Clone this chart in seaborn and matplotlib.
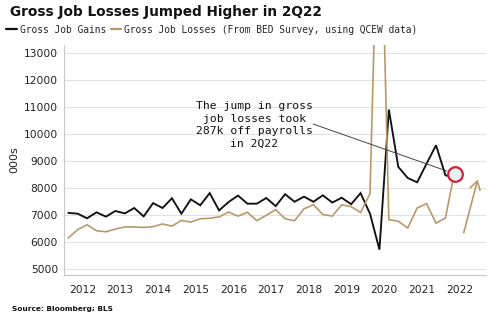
import numpy as np
import pandas as pd
import matplotlib
matplotlib.use("Agg")
import matplotlib.pyplot as plt
import seaborn as sns
from matplotlib.lines import Line2D

# Quarterly BED series, 1Q12 through 2Q22 (thousands of jobs)
quarters = [f"{q}Q{y % 100:02d}" for y in range(2012, 2023) for q in range(1, 5)][:42]

gross_job_gains = [
    7080, 7050, 6880, 7100,   # 2012
    6940, 7150, 7060, 7260,   # 2013
    6950, 7440, 7260, 7620,   # 2014
    7050, 7580, 7360, 7810,   # 2015
    7170, 7480, 7720, 7420,   # 2016
    7420, 7630, 7330, 7770,   # 2017
    7490, 7680, 7490, 7730,   # 2018
    7460, 7640, 7400, 7810,   # 2019
    7050, 5720, 10900, 8780,  # 2020
    8370, 8210, 8900, 9580,   # 2021
    8470, 8380,               # 2022
]

gross_job_losses = [
    6150, 6460, 6640, 6420,   # 2012
    6380, 6480, 6560, 6560,   # 2013
    6540, 6570, 6670, 6590,   # 2014
    6800, 6740, 6860, 6880,   # 2015
    6930, 7110, 6960, 7100,   # 2016
    6790, 6990, 7200, 6860,   # 2017
    6790, 7230, 7380, 7020,   # 2018
    6960, 7380, 7310, 7090,   # 2019
    7790, 21000, 6830, 6770,  # 2020
    6520, 7260, 7420, 6700,   # 2021
    6890, 8667,               # 2022
]

series_names = ["Gross Job Gains", "Gross Job Losses (From BED Survey, using QCEW data)"]
year_labels = [str(y) for y in range(2012, 2023)]

title = "Gross Job Losses Jumped Higher in 2Q22"
note = "The jump in gross\njob losses took\n287k off payrolls\nin 2Q22"
source = "Source: Bloomberg; BLS"

TAN = "#b8996c"
BLACK = "#111111"

# quarter midpoints on a fractional-year axis
def quarter_pos(label):
    q = int(label[0])
    y = 2000 + int(label[2:])
    return y + (q - 0.5) / 4

t = [quarter_pos(q) for q in quarters]
df = pd.concat([
    pd.DataFrame({"t": t, "value": gross_job_gains, "series": series_names[0]}),
    pd.DataFrame({"t": t, "value": gross_job_losses, "series": series_names[1]}),
])

sns.set_theme(style="white")
plt.rcParams["font.family"] = ["DejaVu Sans"]

fig = plt.figure(figsize=(5.0, 3.24), dpi=100)
ax = fig.add_axes([0.127, 0.151, 0.845, 0.710])

sns.lineplot(data=df, x="t", y="value", hue="series",
             palette={series_names[0]: BLACK, series_names[1]: TAN},
             hue_order=series_names, ax=ax, legend=False)
for line, lw in zip(ax.lines, [1.35, 1.2]):
    line.set_linewidth(lw)
    line.set_solid_joinstyle("miter")

ax.set_xlim(2012.0, 2023.2)
ax.set_ylim(4780, 13285)

# gridlines and spines
ax.set_yticks(np.arange(5000, 13001, 1000))
ax.yaxis.grid(True, color="#e2e2e2", linewidth=0.8)
ax.xaxis.grid(False)
for s in ["top", "right"]:
    ax.spines[s].set_visible(False)
for s in ["left", "bottom"]:
    ax.spines[s].set_color("#c8c8c8")
    ax.spines[s].set_linewidth(0.8)

ax.tick_params(axis="y", length=0, pad=4, labelsize=7.7, labelcolor="#222222")

# year boundaries carry tick marks, labels sit mid-year
ax.set_xticks(np.arange(2012, 2024))
ax.set_xticklabels([])
ax.set_xticks(np.arange(2012, 2023) + 0.5, minor=True)
ax.set_xticklabels(year_labels, minor=True)
ax.tick_params(axis="x", which="major", length=3, color="#c8c8c8", width=0.8)
ax.tick_params(axis="x", which="minor", length=0, pad=7, labelsize=7.7, labelcolor="#222222")

ax.set_xlabel("")
ax.set_ylabel("000s", fontsize=8, color="#222222", labelpad=3)

# highlight the latest quarter
cx = t[-1]
cy = (gross_job_gains[-1] + gross_job_losses[-1]) / 2
ax.plot([cx], [cy], marker="o", markersize=10.5, markerfacecolor="#e6f2f0",
        markeredgecolor="#d0203a", markeredgewidth=1.6, zorder=5)

# callout text and leader line
ax.text(2017.06, 10330, note, ha="center", va="center", multialignment="center",
        family="DejaVu Sans Mono", fontsize=8.2, linespacing=1.3, color="#111111")
ax.annotate("", xy=(cx, cy), xytext=(2018.62, 10363),
            arrowprops=dict(arrowstyle="-", color="#444444", lw=0.7,
                            shrinkA=0, shrinkB=6))

# upward arrow beside the last quarter
ax.annotate("", xy=(2022.98, 8318), xytext=(2022.61, 6343),
            arrowprops=dict(arrowstyle="->,head_length=0.5,head_width=0.3",
                            color=TAN, lw=1.2, shrinkA=0, shrinkB=0,
                            mutation_scale=12))

# title, legend and source
fig.text(0.02, 0.962, title, fontsize=9.8, fontweight="bold", color="#111111",
         ha="left", va="center")
handles = [Line2D([], [], color=BLACK, lw=1.6), Line2D([], [], color=TAN, lw=1.6)]
fig.legend(handles, series_names, loc="center left", bbox_to_anchor=(0.005, 0.908),
           ncol=2, frameon=False, handlelength=1.1, handletextpad=0.3,
           columnspacing=0.5, borderaxespad=0,
           prop={"family": "DejaVu Sans Mono", "size": 6.9})
fig.text(0.025, 0.046, source, fontsize=5.3, fontweight="bold", color="#111111",
         ha="left", va="center")

fig.savefig("out.png", dpi=100, facecolor="white")
